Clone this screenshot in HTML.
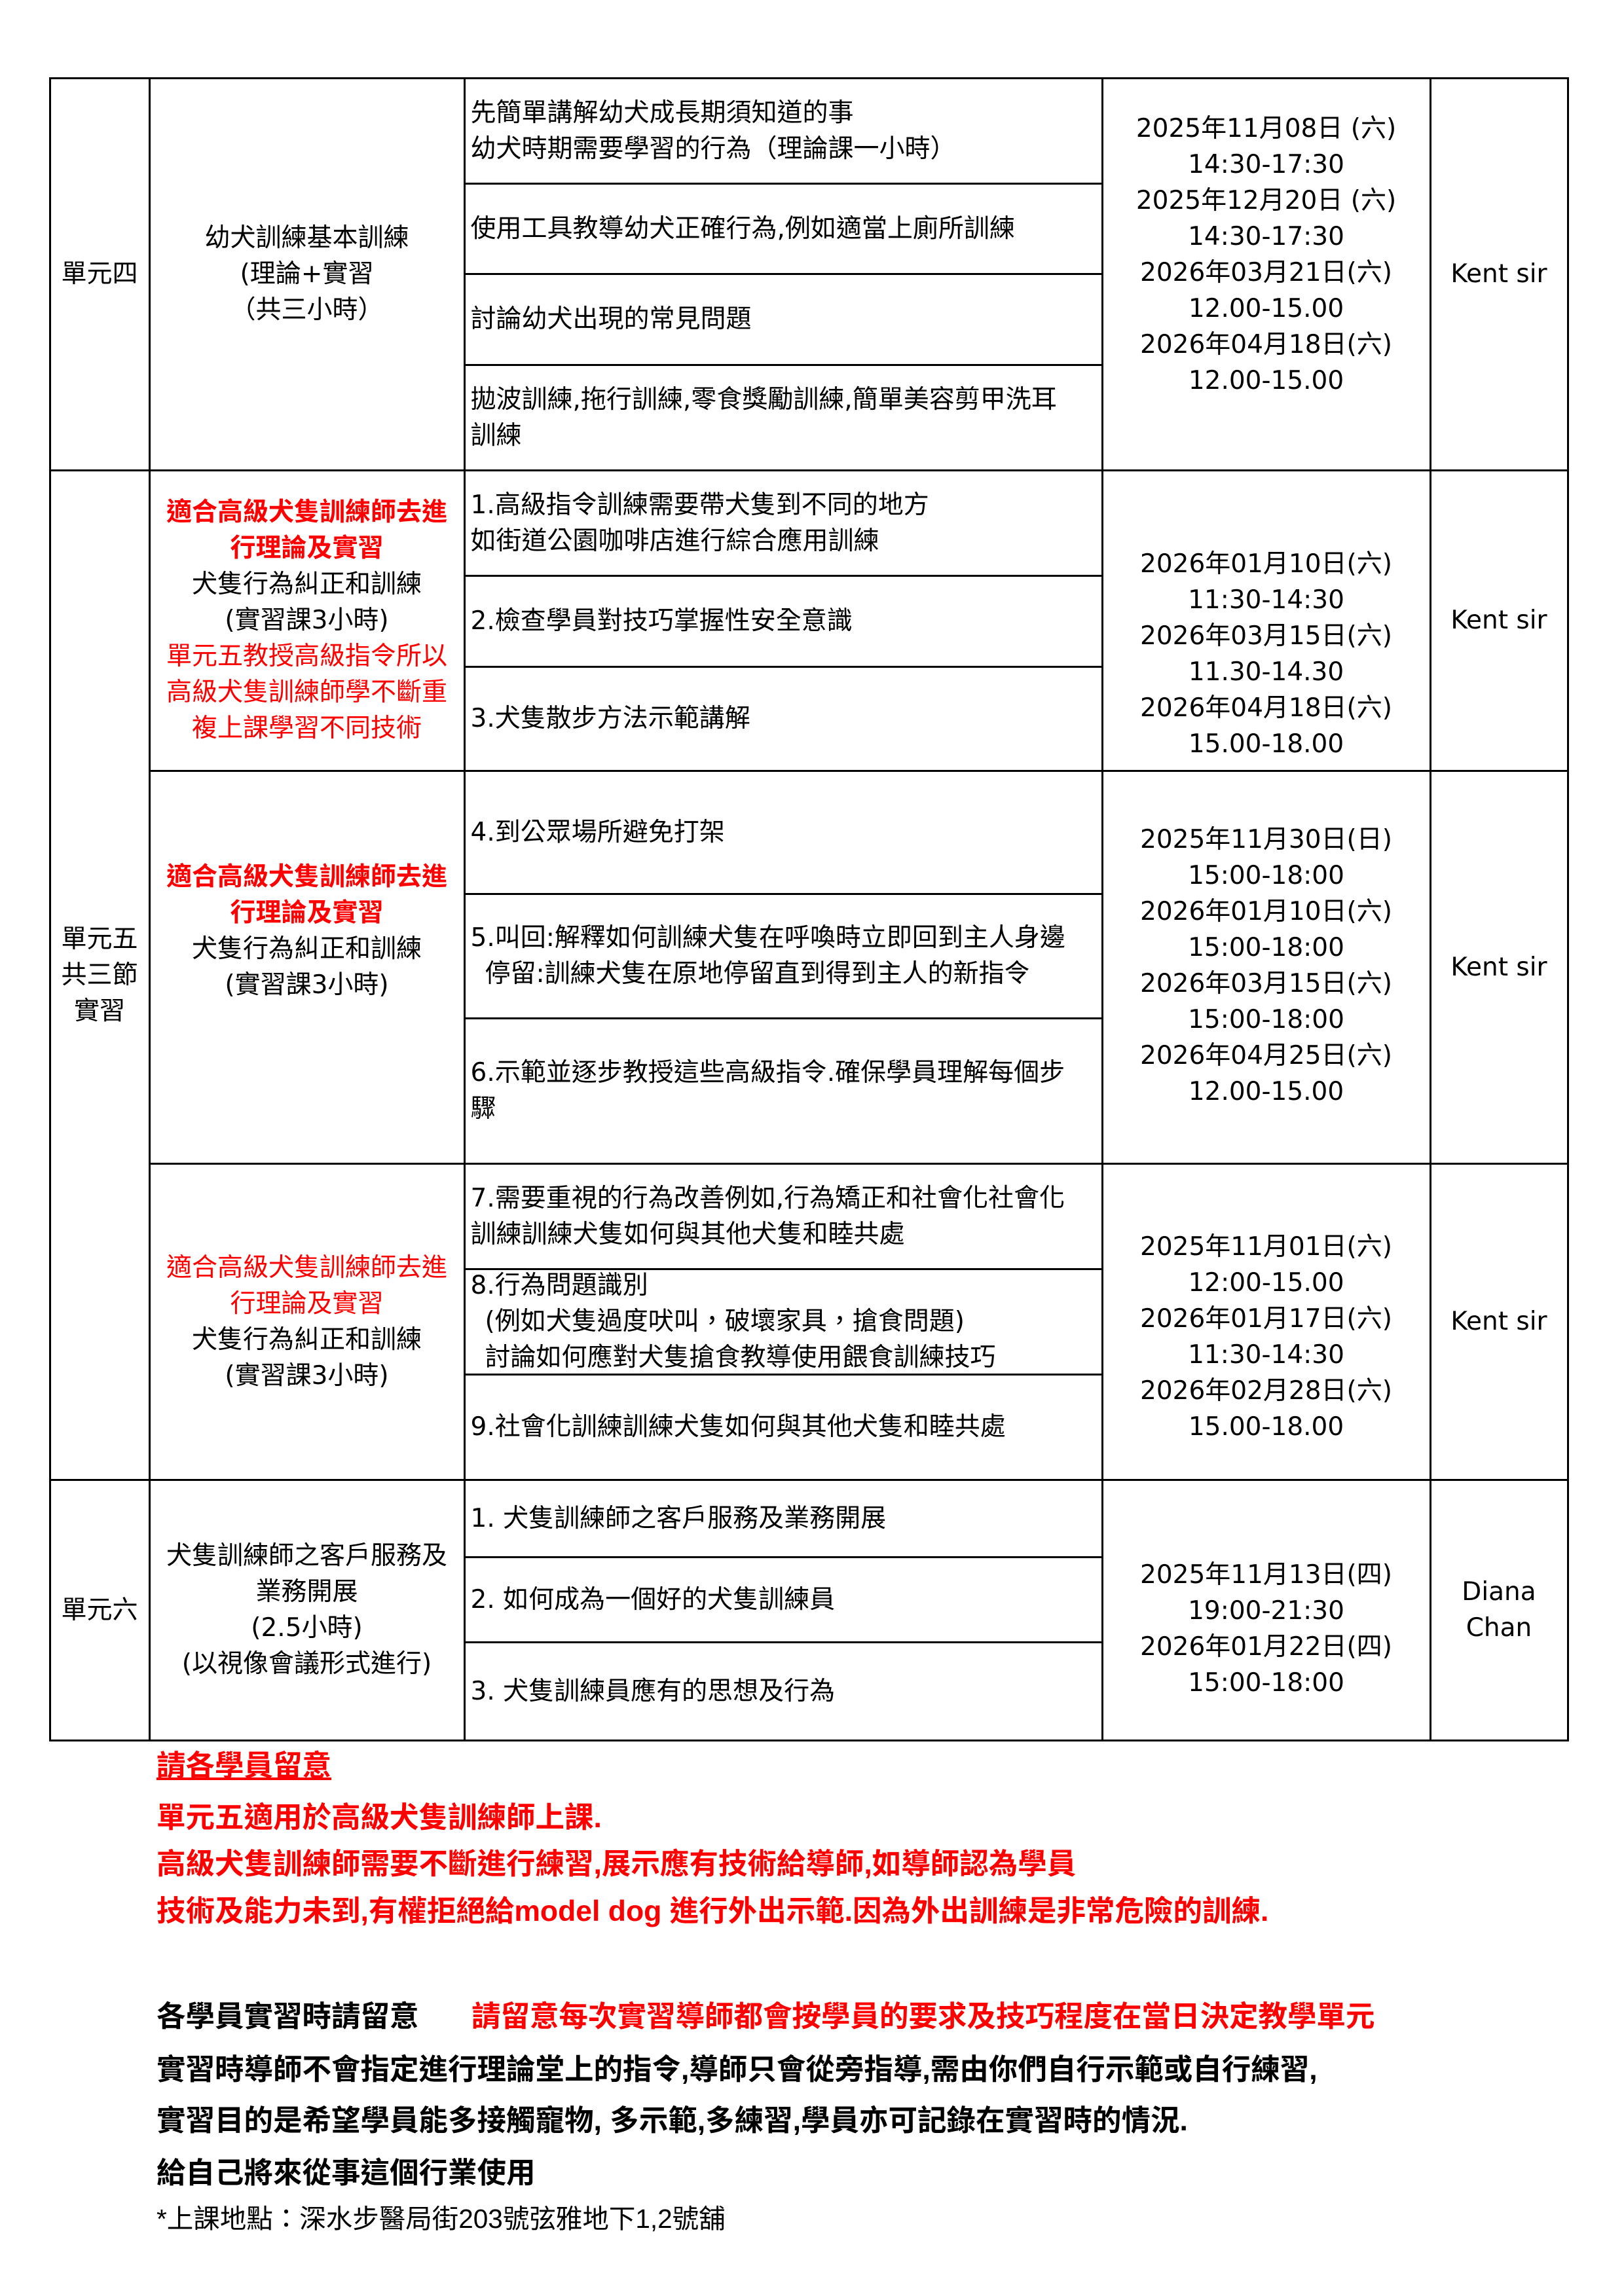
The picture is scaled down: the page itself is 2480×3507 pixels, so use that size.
<!DOCTYPE html>
<html><head><meta charset="utf-8">
<style>
*{margin:0;padding:0;box-sizing:border-box}
body{width:2480px;height:3507px;background:#fff;position:relative;font-family:"DejaVu Sans","Noto Sans CJK TC",sans-serif;color:#000;font-size:38px;line-height:55px;overflow:hidden}
.c{position:absolute;border:3px solid #000;display:flex;flex-direction:column;justify-content:center;align-items:center;text-align:center;margin:-1.5px 0 0 -1.5px;font-size:39px}
.l{align-items:flex-start;text-align:left;padding-left:8px}
.d{justify-content:flex-start}
.r{color:#f00}
.b{font-weight:bold}
.t{position:absolute;left:239px;font-weight:bold;white-space:nowrap;line-height:55px;font-size:44.5px;font-family:"Liberation Sans","Noto Sans CJK TC",sans-serif}
.ind{padding-left:22px}
</style></head><body>
<!-- Unit 4 -->
<div class="c" style="left:76px;top:119px;width:155px;height:602px">單元四</div>
<div class="c" style="left:228px;top:119px;width:484px;height:602px"><div>幼犬訓練基本訓練</div><div>(理論+實習</div><div>（共三小時）</div></div>
<div class="c l" style="left:709px;top:119px;width:977px;height:164px"><div>先簡單講解幼犬成長期須知道的事</div><div>幼犬時期需要學習的行為（理論課一小時）</div></div>
<div class="c l" style="left:709px;top:280px;width:977px;height:141px"><div>使用工具教導幼犬正確行為,例如適當上廁所訓練</div></div>
<div class="c l" style="left:709px;top:418px;width:977px;height:142px"><div>討論幼犬出現的常見問題</div></div>
<div class="c l" style="left:709px;top:557px;width:977px;height:164px"><div>拋波訓練,拖行訓練,零食獎勵訓練,簡單美容剪甲洗耳</div><div>訓練</div></div>
<div class="c d" style="left:1683px;top:119px;width:504px;height:602px;padding-top:48px"><div>2025年11月08日 (六)</div><div>14:30-17:30</div><div>2025年12月20日 (六)</div><div>14:30-17:30</div><div>2026年03月21日(六)</div><div>12.00-15.00</div><div>2026年04月18日(六)</div><div>12.00-15.00</div></div>
<div class="c" style="left:2184px;top:119px;width:213px;height:602px">Kent sir</div>
<!-- Unit 5 -->
<div class="c" style="left:76px;top:718px;width:155px;height:1545px"><div>單元五</div><div>共三節</div><div>實習</div></div>
<div class="c" style="left:228px;top:718px;width:484px;height:462px"><div class="r b">適合高級犬隻訓練師去進</div><div class="r b">行理論及實習</div><div>犬隻行為糾正和訓練</div><div>(實習課3小時)</div><div class="r">單元五教授高級指令所以</div><div class="r">高級犬隻訓練師學不斷重</div><div class="r">複上課學習不同技術</div></div>
<div class="c l" style="left:709px;top:718px;width:977px;height:164px"><div>1.高級指令訓練需要帶犬隻到不同的地方</div><div>如街道公園咖啡店進行綜合應用訓練</div></div>
<div class="c l" style="left:709px;top:879px;width:977px;height:142px"><div>2.檢查學員對技巧掌握性安全意識</div></div>
<div class="c l" style="left:709px;top:1018px;width:977px;height:162px"><div>3.犬隻散步方法示範講解</div></div>
<div class="c d" style="left:1683px;top:718px;width:504px;height:462px;padding-top:114px"><div>2026年01月10日(六)</div><div>11:30-14:30</div><div>2026年03月15日(六)</div><div>11.30-14.30</div><div>2026年04月18日(六)</div><div>15.00-18.00</div></div>
<div class="c" style="left:2184px;top:718px;width:213px;height:462px">Kent sir</div>

<div class="c" style="left:228px;top:1177px;width:484px;height:603px"><div class="r b">適合高級犬隻訓練師去進</div><div class="r b">行理論及實習</div><div>犬隻行為糾正和訓練</div><div>(實習課3小時)</div><div style="height:110px"></div></div>
<div class="c l" style="left:709px;top:1177px;width:977px;height:191px"><div>4.到公眾場所避免打架</div></div>
<div class="c l" style="left:709px;top:1365px;width:977px;height:193px"><div>5.叫回:解釋如何訓練犬隻在呼喚時立即回到主人身邊</div><div class="ind">停留:訓練犬隻在原地停留直到得到主人的新指令</div></div>
<div class="c l" style="left:709px;top:1555px;width:977px;height:225px"><div>6.示範並逐步教授這些高級指令.確保學員理解每個步</div><div>驟</div></div>
<div class="c d" style="left:1683px;top:1177px;width:504px;height:603px;padding-top:76px"><div>2025年11月30日(日)</div><div>15:00-18:00</div><div>2026年01月10日(六)</div><div>15:00-18:00</div><div>2026年03月15日(六)</div><div>15:00-18:00</div><div>2026年04月25日(六)</div><div>12.00-15.00</div></div>
<div class="c" style="left:2184px;top:1177px;width:213px;height:603px">Kent sir</div>

<div class="c" style="left:228px;top:1777px;width:484px;height:486px"><div class="r">適合高級犬隻訓練師去進</div><div class="r">行理論及實習</div><div>犬隻行為糾正和訓練</div><div>(實習課3小時)</div></div>
<div class="c l" style="left:709px;top:1777px;width:977px;height:164px"><div>7.需要重視的行為改善例如,行為矯正和社會化社會化</div><div>訓練訓練犬隻如何與其他犬隻和睦共處</div></div>
<div class="c l" style="left:709px;top:1938px;width:977px;height:164px"><div>8.行為問題識別</div><div class="ind">(例如犬隻過度吠叫，破壞家具，搶食問題)</div><div class="ind">討論如何應對犬隻搶食教導使用餵食訓練技巧</div></div>
<div class="c l" style="left:709px;top:2099px;width:977px;height:164px"><div>9.社會化訓練訓練犬隻如何與其他犬隻和睦共處</div></div>
<div class="c d" style="left:1683px;top:1777px;width:504px;height:486px;padding-top:98px"><div>2025年11月01日(六)</div><div>12:00-15.00</div><div>2026年01月17日(六)</div><div>11:30-14:30</div><div>2026年02月28日(六)</div><div>15.00-18.00</div></div>
<div class="c" style="left:2184px;top:1777px;width:213px;height:486px">Kent sir</div>
<!-- Unit 6 -->
<div class="c" style="left:76px;top:2260px;width:155px;height:401px">單元六</div>
<div class="c" style="left:228px;top:2260px;width:484px;height:401px"><div>犬隻訓練師之客戶服務及</div><div>業務開展</div><div>(2.5小時)</div><div>(以視像會議形式進行)</div></div>
<div class="c l" style="left:709px;top:2260px;width:977px;height:121px"><div>1. 犬隻訓練師之客戶服務及業務開展</div></div>
<div class="c l" style="left:709px;top:2378px;width:977px;height:133px"><div>2. 如何成為一個好的犬隻訓練員</div></div>
<div class="c l" style="left:709px;top:2508px;width:977px;height:153px"><div>3. 犬隻訓練員應有的思想及行為</div></div>
<div class="c d" style="left:1683px;top:2260px;width:504px;height:401px;padding-top:116px"><div>2025年11月13日(四)</div><div>19:00-21:30</div><div>2026年01月22日(四)</div><div>15:00-18:00</div></div>
<div class="c" style="left:2184px;top:2260px;width:213px;height:401px"><div>Diana</div><div>Chan</div></div>
<!-- Footer -->
<div class="t r" style="top:2670px;text-decoration:underline">請各學員留意</div>
<div class="t r" style="top:2749px">單元五適用於高級犬隻訓練師上課.</div>
<div class="t r" style="top:2820px">高級犬隻訓練師需要不斷進行練習,展示應有技術給導師,如導師認為學員</div>
<div class="t r" style="top:2892px">技術及能力未到,有權拒絕給model dog 進行外出示範.因為外出訓練是非常危險的訓練.</div>
<div class="t" style="top:3053px">各學員實習時請留意</div>
<div class="t r" style="top:3053px;left:720px">請留意每次實習導師都會按學員的要求及技巧程度在當日決定教學單元</div>
<div class="t" style="top:3134px">實習時導師不會指定進行理論堂上的指令,導師只會從旁指導,需由你們自行示範或自行練習,</div>
<div class="t" style="top:3212px">實習目的是希望學員能多接觸寵物, 多示範,多練習,學員亦可記錄在實習時的情況.</div>
<div class="t" style="top:3292px">給自己將來從事這個行業使用</div>
<div class="t" style="top:3362px;font-weight:normal;font-size:40.5px">*上課地點：深水步醫局街203號弦雅地下1,2號舖</div>
</body></html>
